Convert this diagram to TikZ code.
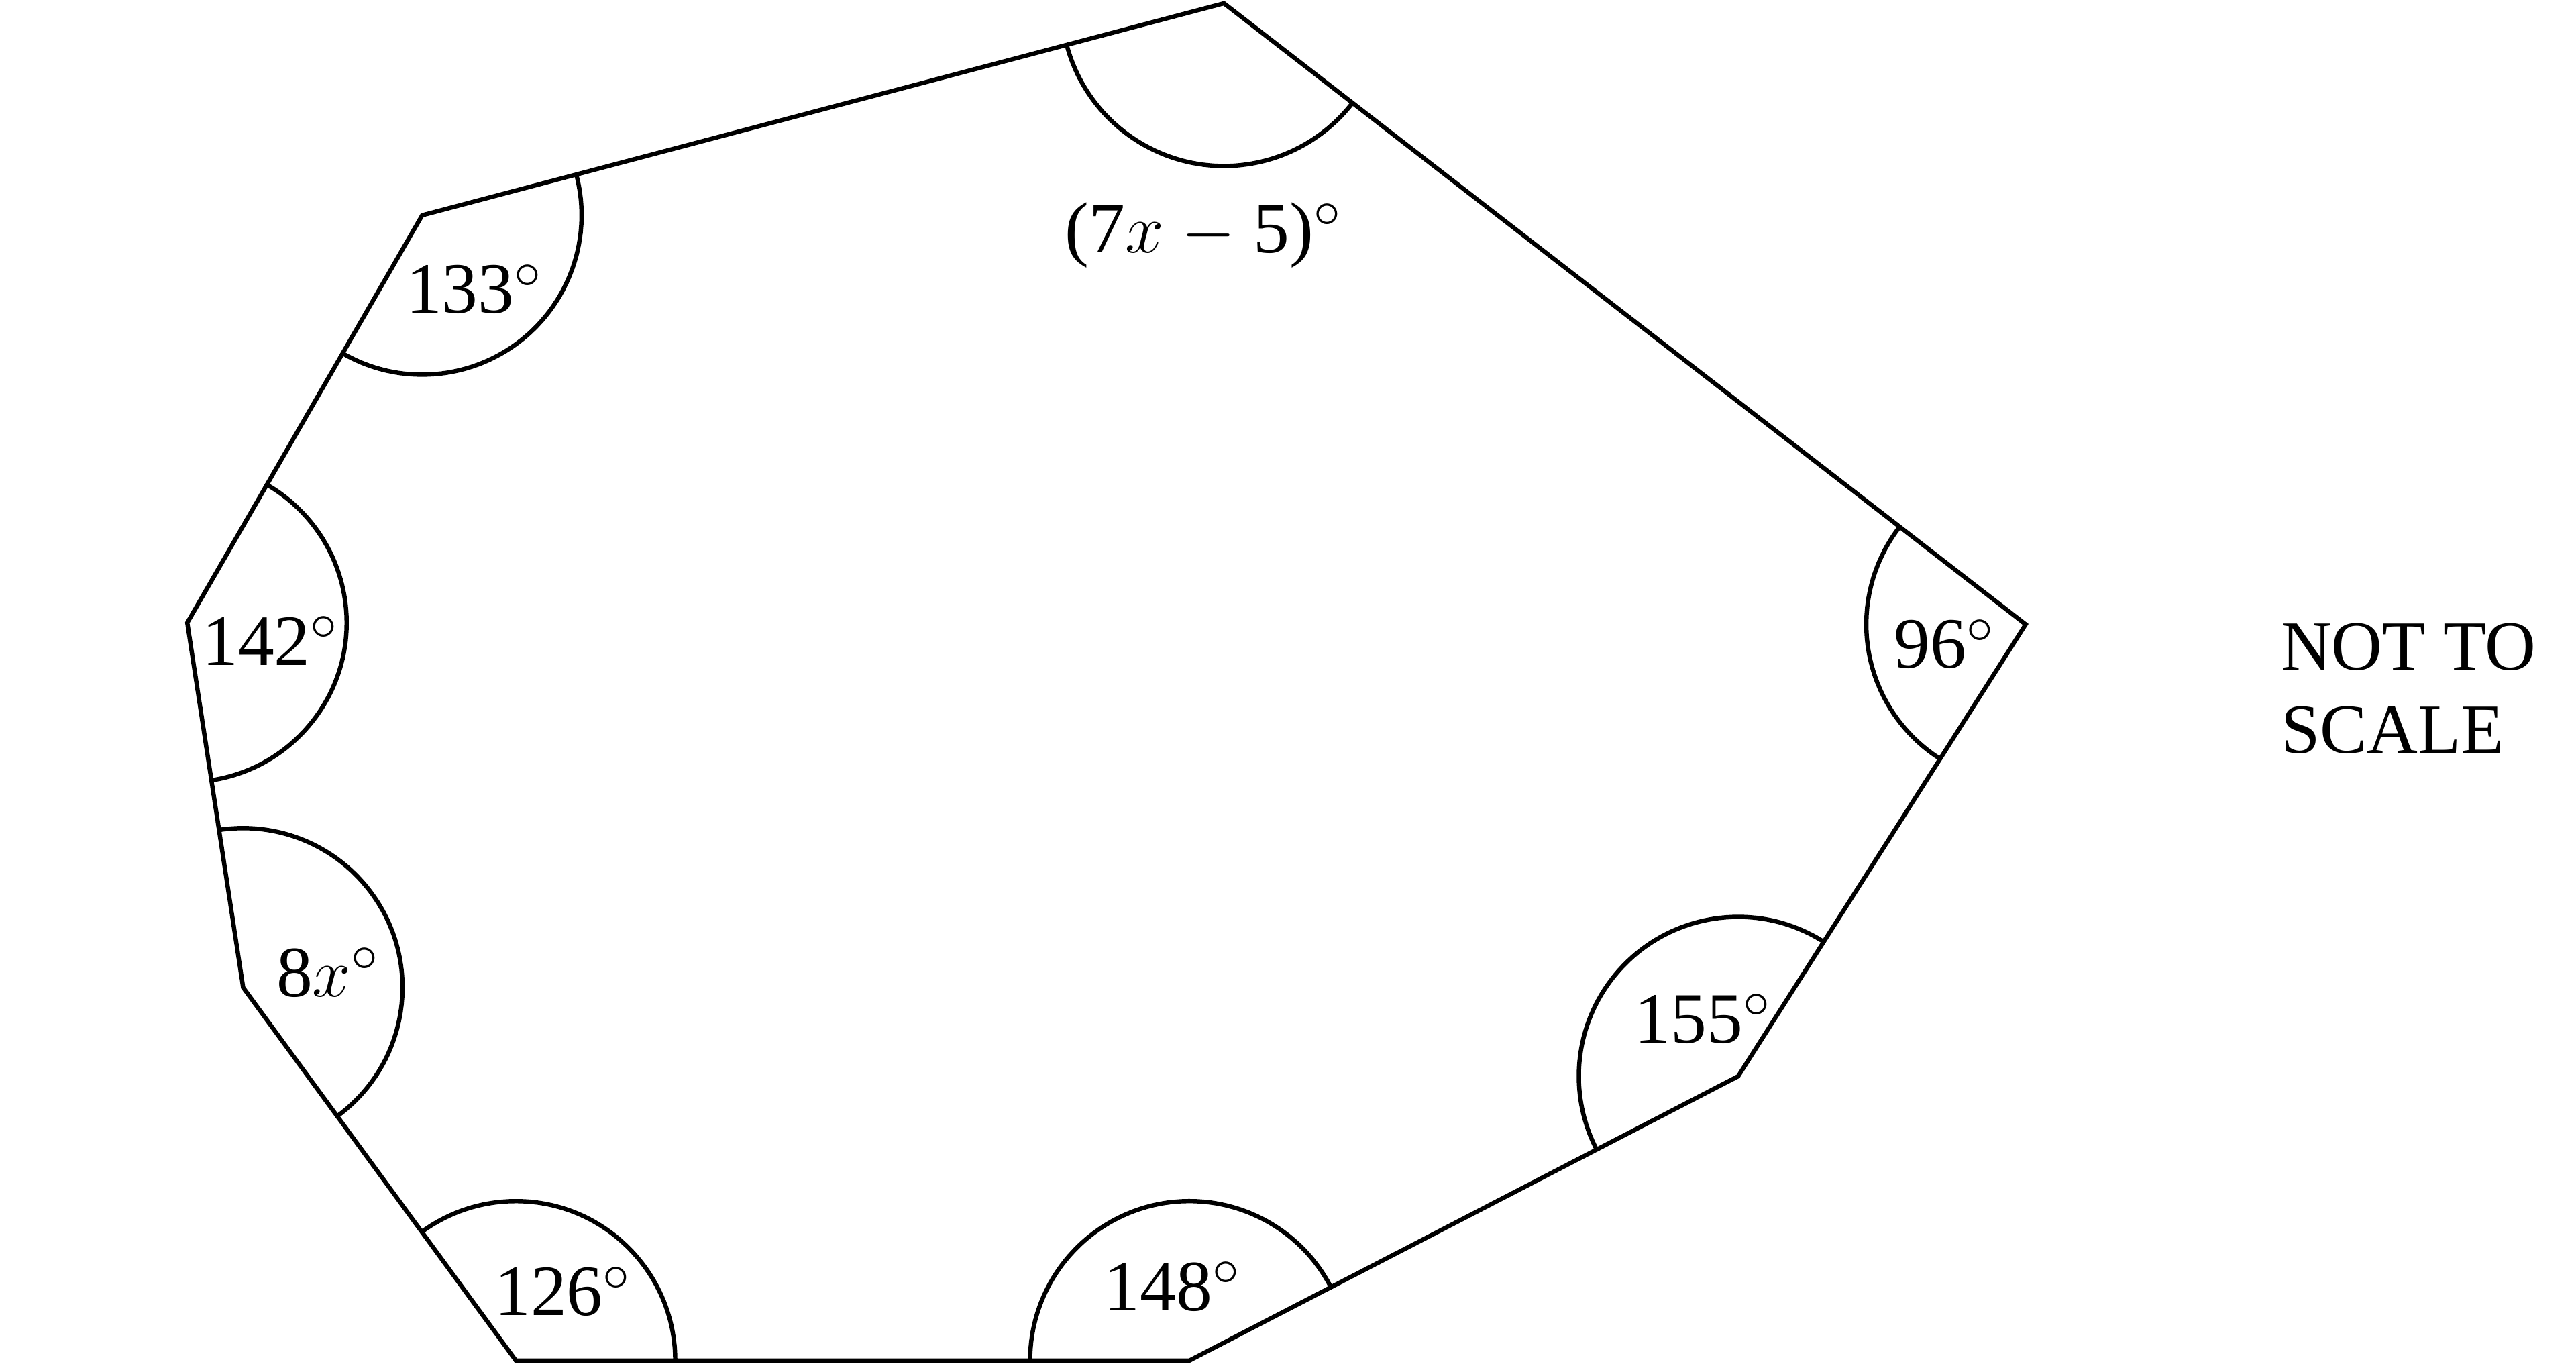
\documentclass[tikz,border=0pt]{standalone}
\usepackage{fontspec}
\setmainfont{Liberation Serif}
\usetikzlibrary{angles, quotes}

\begin{document}
\begin{tikzpicture}[line width=0.75pt, font=\fontsize{12.5}{14.5}\selectfont]
        \useasboundingbox (0,0) rectangle (15.68,8.30);

        \coordinate (A) at (7.45,8.28);
        \coordinate (B) at (12.33,4.50);
        \coordinate (C) at (10.58,1.75);
        \coordinate (D) at (7.24,0.02);
        \coordinate (E) at (3.14,0.02);
        \coordinate (F) at (1.48,2.29);
        \coordinate (G) at (1.14,4.51);
        \coordinate (H) at (2.57,6.99);

        \draw (A) -- (B) -- (C) -- (D) -- (E) -- (F) -- (G) -- (H) -- cycle;

        \draw pic[draw, angle radius=0.99cm] {angle = H--A--B};
        \draw pic[draw, angle radius=0.97cm] {angle = A--B--C};
        \draw pic[draw, angle radius=0.97cm] {angle = B--C--D};
        \draw pic[draw, angle radius=0.97cm] {angle = C--D--E};
        \draw pic[draw, angle radius=0.97cm] {angle = D--E--F};
        \draw pic[draw, angle radius=0.97cm] {angle = E--F--G};
        \draw pic[draw, angle radius=0.97cm] {angle = F--G--H};
        \draw pic[draw, angle radius=0.97cm] {angle = G--H--A};

        \node (angA) at (7.33,6.87) {(7$x$ $-$ 5)$^\circ$};
        \node (angB) at (11.84,4.38) {96$^\circ$};
        \node (angC) at (10.37,2.10) {155$^\circ$};
        \node (angD) at (7.14,0.47) {148$^\circ$};
        \node (angE) at (3.43,0.44) {126$^\circ$};
        \node (angF) at (2.00,2.38) {8$x^\circ$};
        \node (angG) at (1.65,4.40) {142$^\circ$};
        \node (angH) at (2.89,6.54) {133$^\circ$};

        \node[anchor=west, align=left, inner sep=0pt, font=\fontsize{12.2}{14.5}\selectfont] (note) at (13.87,4.11) {NOT TO\\SCALE};
    \end{tikzpicture}
\end{document}
